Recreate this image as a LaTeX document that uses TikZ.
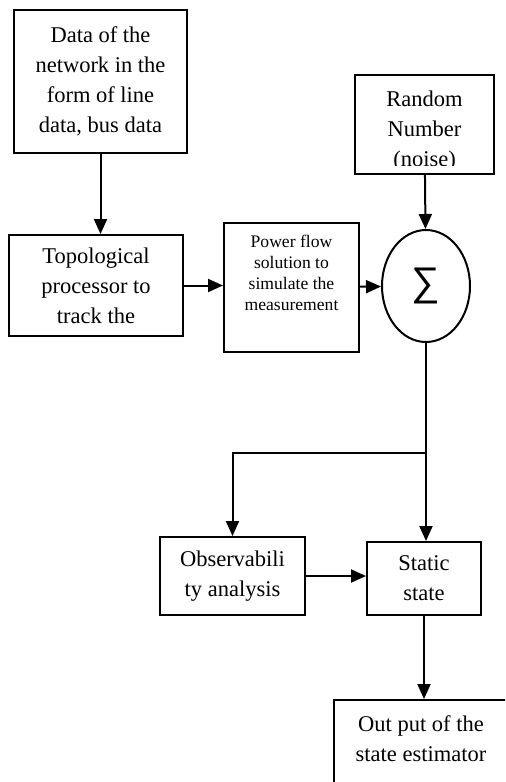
\documentclass[tikz,border=0pt]{standalone}
\usepackage{fontspec}
\setmainfont{Liberation Serif}
\newfontfamily\sigmafont{Liberation Sans}
\usetikzlibrary{shapes.geometric,arrows.meta}

\begin{document}
\begin{tikzpicture}[x=0.5pt, y=-0.5pt,
    block/.style ={rectangle, draw=black, line width=1pt, inner sep=0pt},
    block_text/.style ={align=center, inner sep=0pt,
      font=\fontsize{11.25}{15}\selectfont},
    block_small/.style ={align=center, inner sep=0pt,
      font=\fontsize{8.8}{10.5}\selectfont},
    sum_node/.style ={ellipse, draw=black, line width=1pt,
      minimum width=44pt, minimum height=56pt, inner sep=0pt},
    line/.style ={draw, line width=1pt, -{Triangle[length=7.5pt,width=6.5pt]}}]

    % the page is the picture, the last box runs off it
    \clip (0,0) rectangle (505,782);

    % Place nodes
    \node [block, block_text, minimum width=86.5pt, minimum height=71.5pt] (data) at (100.5,81.5)
      {Data of the\\ network in the\\ form of line\\ data, bus data};
    \node [block, block_text, minimum width=87pt, minimum height=50.5pt] (topo) at (96,285.5)
      {Topological\\ processor to\\ track the};
    \node [block, minimum width=67.5pt, minimum height=64.5pt] (power) at (291.5,287.5) {};
    \node [block_small] (powerText) at ([yshift=7.25pt]power.center)
      {Power flow\\ solution to\\ simulate the\\ measurement};
    \node [block, minimum width=69.5pt, minimum height=49.5pt] (random) at (424.5,124.5) {};
    \begin{scope}
      % the last line is cut by the box
      \clip (random.north west) rectangle ([yshift=5pt]random.south east);
      \node [block_text] (randomText) at ([yshift=-3.5pt]random.center)
        {Random\\ Number\\ (noise)};
    \end{scope}
    \node [sum_node] (sigma) at (426,286) {\sigmafont\fontsize{20}{20}\selectfont ∑};
    \node [block, block_text, minimum width=72.5pt, minimum height=39pt] (obs) at (232.5,576)
      {Observabili\\ ty analysis};
    \node [block, block_text, minimum width=57pt, minimum height=36.5pt] (static) at (424,578.5)
      {Static\\ state};
    \node [block, minimum width=87pt, minimum height=50pt] (out) at (421,750) {};
    \node [block_text] (outText) at ([yshift=5.75pt]out.center)
      {Out put of the\\ state estimator};
    \coordinate (split) at (426,453);

    \begin{scope}[every path/.style=line]
    % Drawing paths, top to bottom
    \path (data) -- (data |- topo.north);
    \path (topo) -- (topo -| power.west);
    \path (power) -- (sigma);
    \path (random) -- (sigma);
    \path (sigma.south) -- (sigma.south |- static.north);
    \path (split) -| (obs.north);
    \path (obs) -- (obs -| static.west);
    \path (static) -- (static |- out.north);
    \end{scope}

\end{tikzpicture}
\end{document}
